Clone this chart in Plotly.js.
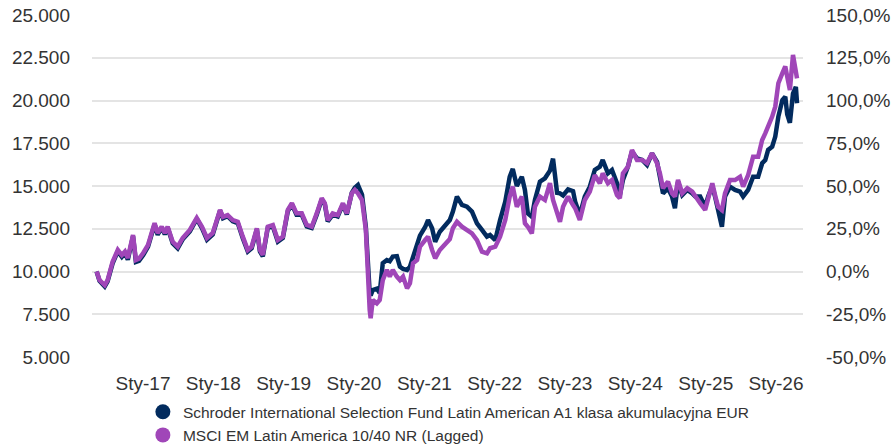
<!DOCTYPE html>
<html>
<head>
<meta charset="utf-8">
<script src="https://cdn.plot.ly/plotly-3.0.1.min.js"></script>
<style>html,body{margin:0;padding:0;background:#fff}#chart{width:893px;height:444px}</style>
</head>
<body>
<div id="chart"></div>
<script>
const seriesNames = [
  'Schroder International Selection Fund Latin American A1 klasa akumulacyjna EUR',
  'MSCI EM Latin America 10/40 NR (Lagged)'
];
const dates = [
  '2016-05-05','2016-05-20','2016-06-16','2016-07-01','2016-07-27','2016-08-23','2016-09-13','2016-09-29','2016-10-14','2016-11-10','2016-11-25','2016-12-11',
  '2017-01-02','2017-01-27','2017-03-02','2017-03-18','2017-04-08','2017-04-24','2017-05-09','2017-06-04','2017-06-30','2017-07-26','2017-09-01','2017-10-07','2017-11-03','2017-11-29','2017-12-29',
  '2018-01-10','2018-02-05','2018-02-20','2018-03-16','2018-04-12','2018-05-08','2018-06-03','2018-06-29','2018-07-19','2018-08-15','2018-08-31','2018-09-15','2018-10-11','2018-11-06','2018-12-02','2018-12-28',
  '2019-01-23','2019-02-13','2019-03-09','2019-04-05','2019-05-01','2019-05-27','2019-06-22','2019-07-18','2019-08-03','2019-08-18','2019-09-13','2019-10-09','2019-11-05','2019-11-25','2019-12-21',
  '2020-01-06','2020-01-22','2020-02-12','2020-03-03','2020-03-13','2020-03-23','2020-03-28','2020-04-08','2020-04-29','2020-05-14','2020-05-30','2020-06-20','2020-07-05','2020-07-21','2020-08-11','2020-08-27','2020-09-12','2020-10-03','2020-10-18','2020-11-03','2020-11-24','2020-12-09',
  '2021-01-05','2021-01-20','2021-02-10','2021-02-26','2021-03-22','2021-04-17','2021-05-13','2021-05-29','2021-06-19','2021-07-15','2021-08-10','2021-09-05','2021-10-01','2021-10-27','2021-11-22','2021-12-08',
  '2022-01-04','2022-01-29','2022-02-25','2022-03-20','2022-04-05','2022-04-26','2022-05-22','2022-06-07','2022-06-22','2022-07-13','2022-07-29','2022-08-24','2022-09-19','2022-10-15','2022-10-31','2022-11-21','2022-12-06','2022-12-22',
  '2023-01-17','2023-02-12','2023-02-23','2023-03-19','2023-04-14','2023-05-10','2023-06-05','2023-07-01','2023-07-16','2023-08-12','2023-09-02','2023-09-28','2023-10-13','2023-10-29','2023-11-24','2023-12-15',
  '2024-01-10','2024-02-06','2024-03-02','2024-03-28','2024-04-23','2024-05-08','2024-05-24','2024-06-19','2024-07-10','2024-07-25','2024-08-10','2024-09-01','2024-09-27','2024-10-23','2024-11-08','2024-12-03','2024-12-29',
  '2025-01-14','2025-02-04','2025-02-20','2025-03-06','2025-03-26','2025-04-11','2025-05-07','2025-06-02','2025-06-28','2025-07-14','2025-08-09','2025-09-04','2025-09-30','2025-10-21','2025-11-06','2025-11-21','2025-12-12','2025-12-28',
  '2026-01-13','2026-02-03','2026-02-18','2026-02-28','2026-03-14','2026-03-30','2026-04-14','2026-04-20'
];
const fundValues = [
  10000, 9450, 9120, 9420, 10480, 11180, 10860, 11080, 10690, 12060, 10560, 10620,
  10960, 11460, 12760, 12150, 12560, 12170, 12560, 11650, 11360, 11880, 12350, 13080, 12540, 11860, 12170,
  12640, 13560, 13120, 13240, 12930, 12830, 11950, 11170, 11360, 12460, 11170, 10880, 12560, 12640, 11750, 11960,
  13540, 13930, 13320, 13330, 12630, 12540, 13320, 14220, 13930, 12930, 13330, 13220, 13930, 13340, 14600,
  14900, 15060, 14500, 12600, 9900, 8740, 8600, 8920, 9000, 8740, 10490, 10670, 10600, 10870, 10900, 10280, 10150, 10090, 10280, 10870, 11740, 12100,
  12600, 13010, 12530, 11740, 12330, 12650, 13010, 13500, 14380, 13890, 13790, 13500, 12820, 12430, 12040, 12130,
  11840, 13010, 14080, 15540, 16000, 15000, 15540, 14770, 13400, 13200, 14180, 15250, 15450, 15900, 16600, 14600, 14570, 14450,
  14800, 14700, 14080, 13300, 14380, 14960, 15940, 16130, 16520, 15740, 15940, 15160, 14470, 15350, 16130, 17010,
  16620, 16520, 16230, 16910, 16420, 15540, 14570, 14870, 14380, 13700, 15250, 14470, 14770, 14570, 14380, 14380, 13790,
  14400, 15000, 14300, 13700, 12620, 14380, 14960, 14770, 14670, 14380, 14770, 15540, 15540, 16330, 16520, 17110, 17300, 17890,
  19060, 20030, 20220, 19200, 18700, 20400, 20800, 19840
];
const indexValues = [
  10000, 9500, 9200, 9500, 10570, 11260, 10960, 11160, 10790, 12130, 10670, 10750,
  11080, 11550, 12830, 12250, 12620, 12250, 12620, 11740, 11450, 11960, 12430, 13130, 12620, 11960, 12250,
  12720, 13600, 13200, 13300, 13010, 12910, 12040, 11260, 11450, 12530, 11260, 10970, 12620, 12720, 11840, 12040,
  13600, 13990, 13400, 13400, 12720, 12620, 13400, 14280, 13990, 13010, 13400, 13300, 13990, 13400, 14570,
  14770, 14570, 14180, 12430, 9700, 7750, 7260, 8330, 8140, 8330, 9500, 10090, 9700, 10090, 9700, 9500, 9700, 9020, 9310, 10480, 10670, 11450,
  11840, 12040, 11260, 10770, 11260, 11550, 11900, 12530, 12910, 12620, 12430, 12230, 11840, 11160, 11060, 11360,
  11450, 12040, 13010, 14380, 14960, 13790, 14380, 12820, 12620, 12230, 13790, 14380, 14180, 15160, 14180, 13500, 12910, 13790,
  14380, 13890, 13700, 13010, 14180, 14670, 15640, 15160, 15740, 15160, 15350, 14470, 14280, 15740, 16130, 17110,
  16520, 16520, 16330, 16910, 16330, 15740, 14870, 15250, 14570, 14380, 15350, 14570, 14870, 14670, 14380, 13990, 13600,
  14380, 15160, 14380, 13790, 13600, 14570, 15350, 15350, 15540, 14960, 15640, 16710, 16710, 17690, 18080, 18480, 19060, 19640,
  21010, 21600, 21990, 21400, 20610, 22660, 21600, 21300
];
const xTickDates = ['2017-01-01','2018-01-01','2019-01-01','2020-01-01','2021-01-01','2022-01-01','2023-01-01','2024-01-01','2025-01-01','2026-01-01'];
const xTickLabels = ['Sty-17','Sty-18','Sty-19','Sty-20','Sty-21','Sty-22','Sty-23','Sty-24','Sty-25','Sty-26'];
const leftTickVals = [5000, 7500, 10000, 12500, 15000, 17500, 20000, 22500, 25000];
const rightTickVals = [-50, -25, 0, 25, 50, 75, 100, 125, 150];
const rightTickLabels = ['-50,0%','-25,0%','0,0%','25,0%','50,0%','75,0%','100,0%','125,0%','150,0%'];

const navy = '#022b5e';
const purple = '#a046b8';
const font = 'Arial, "Liberation Sans", sans-serif';
const tickFont = {family: font, size: 19, color: '#333'};

const traces = [
  {x: dates, y: fundValues, type: 'scatter', mode: 'lines', line: {color: navy, width: 4.5}, showlegend: false, hoverinfo: 'skip'},
  {x: dates, y: indexValues, type: 'scatter', mode: 'lines', line: {color: purple, width: 4.5}, showlegend: false, hoverinfo: 'skip'},
  {x: [null], y: [null], type: 'scatter', mode: 'markers', name: seriesNames[0], marker: {color: navy, size: 15, symbol: 'circle'}},
  {x: [null], y: [null], type: 'scatter', mode: 'markers', name: seriesNames[1], marker: {color: purple, size: 15, symbol: 'circle'}},
  {x: [null], y: [null], yaxis: 'y2', type: 'scatter', mode: 'lines', showlegend: false, hoverinfo: 'skip'}
];

const layout = {
  width: 893, height: 444,
  margin: {l: 92, r: 90, t: 15, b: 87, autoexpand: false},
  paper_bgcolor: '#fff', plot_bgcolor: '#fff',
  separators: ',.',
  font: {family: font, size: 19, color: '#333'},
  showlegend: true,
  legend: {
    orientation: 'v', xref: 'container', yref: 'container',
    x: 0.16, y: 0.11, xanchor: 'left', yanchor: 'top',
    font: {family: font, size: 15.5, color: '#333'},
    tracegroupgap: 0, itemclick: false
  },
  xaxis: {
    type: 'date', range: ['2016-04-11', '2026-05-21'],
    tickvals: xTickDates, ticktext: xTickLabels, tickangle: 0,
    showgrid: false, zeroline: false, showline: false, ticks: '',
    ticklabelstandoff: 13, automargin: false,
    tickfont: tickFont
  },
  yaxis: {
    range: [5000, 25000], tickvals: leftTickVals, tickformat: ',.0f',
    showgrid: true, gridcolor: '#e4e4e4', gridwidth: 2,
    zeroline: false, showline: false, ticks: '', automargin: false,
    ticklabelstandoff: 21,
    tickfont: tickFont
  },
  yaxis2: {
    overlaying: 'y', side: 'right', range: [-50, 150],
    tickvals: rightTickVals, ticktext: rightTickLabels,
    showgrid: false, zeroline: false, showline: false, ticks: '', automargin: false,
    ticklabelstandoff: 22,
    tickfont: tickFont
  }
};

Plotly.newPlot('chart', traces, layout, {displayModeBar: false, staticPlot: true});
</script>
</body>
</html>
